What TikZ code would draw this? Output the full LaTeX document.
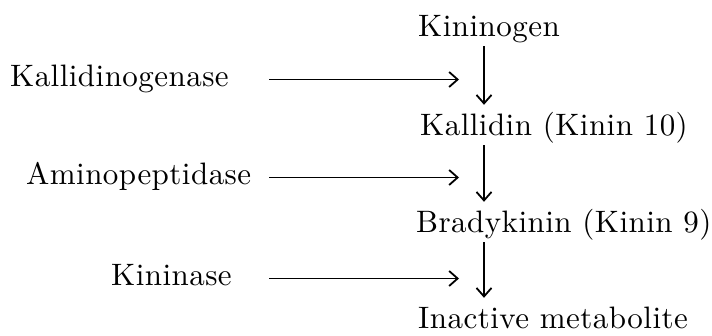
\documentclass[tikz,border=0pt]{standalone}
\usepackage{fontspec}
\setmainfont{lmroman10-regular.otf}
\usetikzlibrary{arrows.meta}
\tikzset{
  chem/.style={font=\fontsize{31}{36}\selectfont\addfontfeature{LetterSpace=1.5},
    inner sep=0pt, text height=22pt, text depth=7pt, anchor=base west},
  rxn/.style={line width=1.8pt, -{Straight Barb[length=8.5pt,width=15pt]}}
}
\begin{document}
\begin{tikzpicture}[x=1pt,y=-1pt]
      \useasboundingbox (0,0) rectangle (712,336);
      \coordinate (axis) at (484,0);
      \coordinate (tail) at (269,0);
      \draw
        (418,37) node[chem] (kng){Kininogen}
        (420,136) node[chem] (kld){Kallidin (Kinin 10)}
        (416,233) node[chem] (bdk){Bradykinin (Kinin 9)}
        (418,329) node[chem] (ina){Inactive metabolite}
        (10,87) node[chem] (kdg){Kallidinogenase}
        (26,185) node[chem] (amp){Aminopeptidase}
        (111,286) node[chem] (kns){Kininase};
      \begin{scope}[rxn, shorten <=2pt, shorten >=9pt]
        \draw (kng.south -| axis) to (kld.north -| axis);
        \draw (kld.south -| axis) to (bdk.north -| axis);
        \draw (bdk.south -| axis) to (ina.north -| axis);
      \end{scope}
      \begin{scope}[rxn, shorten >=25pt]
        \draw (kdg -| tail) to (kdg -| axis);
        \draw (amp -| tail) to (amp -| axis);
        \draw (kns -| tail) to (kns -| axis);
      \end{scope}
    \end{tikzpicture}
\end{document}
